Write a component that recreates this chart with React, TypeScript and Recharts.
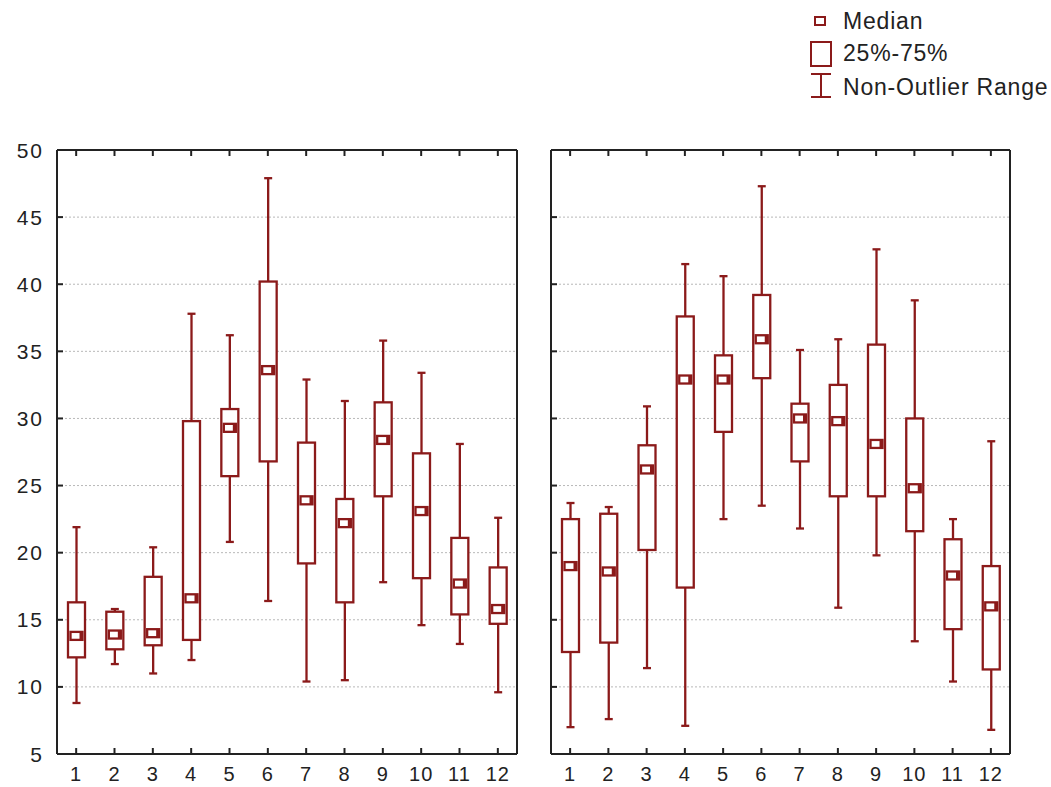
import { ComposedChart, Bar, XAxis, YAxis, CartesianGrid } from 'recharts';

const months = ['1', '2', '3', '4', '5', '6', '7', '8', '9', '10', '11', '12'];
const yTicks = [5, 10, 15, 20, 25, 30, 35, 40, 45, 50];

// left panel
const leftMin = [8.8, 11.7, 11.0, 12.0, 20.8, 16.4, 10.4, 10.5, 17.8, 14.6, 13.2, 9.6];
const leftQ1 = [12.2, 12.8, 13.1, 13.5, 25.7, 26.8, 19.2, 16.3, 24.2, 18.1, 15.4, 14.7];
const leftMedian = [13.8, 13.9, 14.0, 16.6, 29.3, 33.6, 23.9, 22.2, 28.4, 23.1, 17.7, 15.8];
const leftQ3 = [16.3, 15.6, 18.2, 29.8, 30.7, 40.2, 28.2, 24.0, 31.2, 27.4, 21.1, 18.9];
const leftMax = [21.9, 15.8, 20.4, 37.8, 36.2, 47.9, 32.9, 31.3, 35.8, 33.4, 28.1, 22.6];

// right panel
const rightMin = [7.0, 7.6, 11.4, 7.1, 22.5, 23.5, 21.8, 15.9, 19.8, 13.4, 10.4, 6.8];
const rightQ1 = [12.6, 13.3, 20.2, 17.4, 29.0, 33.0, 26.8, 24.2, 24.2, 21.6, 14.3, 11.3];
const rightMedian = [19.0, 18.6, 26.2, 32.9, 32.9, 35.9, 30.0, 29.8, 28.1, 24.8, 18.3, 16.0];
const rightQ3 = [22.5, 22.9, 28.0, 37.6, 34.7, 39.2, 31.1, 32.5, 35.5, 30.0, 21.0, 19.0];
const rightMax = [23.7, 23.4, 30.9, 41.5, 40.6, 47.3, 35.1, 35.9, 42.6, 38.8, 22.5, 28.3];

const RED = '#8b1a1a';
const AXIS = '#222';
const FONT = '"Liberation Sans", Arial, sans-serif';

const buildRows = (mins: number[], q1s: number[], meds: number[], q3s: number[], maxs: number[]) =>
  months.map((m, i) => ({
    month: m,
    min: mins[i],
    q1: q1s[i],
    median: meds[i],
    q3: q3s[i],
    max: maxs[i],
  }));

const leftRows = buildRows(leftMin, leftQ1, leftMedian, leftQ3, leftMax);
const rightRows = buildRows(rightMin, rightQ1, rightMedian, rightQ3, rightMax);

// bar spans min..max; the inner parts are placed on the same pixel scale
const BoxShape = (props: any) => {
  const { x, y, width, height, payload } = props;
  const { min, q1, median, q3, max } = payload;
  const px = (v: number) => y + ((max - v) / (max - min)) * height;
  const cx = x + width / 2;
  const cap = 4;
  const mw = 12;
  const mh = 8;
  const my = px(median);
  return (
    <g stroke={RED} strokeWidth={2.3} fill="none">
      <line x1={cx} x2={cx} y1={px(max)} y2={px(q3)} />
      <line x1={cx} x2={cx} y1={px(q1)} y2={px(min)} />
      <line x1={cx - cap} x2={cx + cap} y1={px(max)} y2={px(max)} />
      <line x1={cx - cap} x2={cx + cap} y1={px(min)} y2={px(min)} />
      <rect x={x} y={px(q3)} width={width} height={px(q1) - px(q3)} fill="#fff" />
      <rect x={cx - mw / 2} y={my - mh / 2} width={mw} height={mh} fill="#fff" />
      <rect x={cx + mw / 2 - 3} y={my - mh / 2} width={3} height={mh} fill={RED} stroke="none" />
    </g>
  );
};

// ticks all point into the plot frame
const LeftTick = (withLabel: boolean) => (props: any) => {
  const { x, y, payload } = props;
  return (
    <g>
      <line x1={x} x2={x + 6} y1={y} y2={y} stroke={AXIS} strokeWidth={2} />
      {withLabel && (
        <text x={x - 13} y={y} dy="0.36em" textAnchor="end" fontSize={21} letterSpacing={2} fill="#222" fontFamily={FONT}>
          {payload.value}
        </text>
      )}
    </g>
  );
};

const RightTick = (props: any) => {
  const { x, y } = props;
  return <line x1={x - 6} x2={x} y1={y} y2={y} stroke={AXIS} strokeWidth={2} />;
};

const BottomTick = (props: any) => {
  const { x, y, payload } = props;
  return (
    <g>
      <line x1={x} x2={x} y1={y} y2={y - 6} stroke={AXIS} strokeWidth={2} />
      <text x={x} y={y + 20} dy="0.36em" textAnchor="middle" fontSize={20} letterSpacing={1} fill="#222" fontFamily={FONT}>
        {payload.value}
      </text>
    </g>
  );
};

const TopTick = (props: any) => {
  const { x, y } = props;
  return <line x1={x} x2={x} y1={y} y2={y + 6} stroke={AXIS} strokeWidth={2} />;
};

const Panel = ({ rows, leftWidth, rightWidth, width, withLabels }: any) => (
  <ComposedChart width={width} height={657} data={rows} margin={{ top: 0, right: 0, bottom: 0, left: 0 }}>
    <CartesianGrid vertical={false} stroke="#b8b8b8" strokeDasharray="2 2" />
    <XAxis
      dataKey="month"
      height={33}
      tickSize={0}
      tickMargin={0}
      tickLine={false}
      interval={0}
      axisLine={{ stroke: AXIS, strokeWidth: 2 }}
      tick={BottomTick}
    />
    <XAxis
      dataKey="month"
      xAxisId="top"
      orientation="top"
      height={20}
      tickSize={0}
      tickMargin={0}
      tickLine={false}
      interval={0}
      axisLine={{ stroke: AXIS, strokeWidth: 2 }}
      tick={TopTick}
    />
    <YAxis
      domain={[5, 50]}
      ticks={yTicks}
      width={leftWidth}
      tickSize={0}
      tickMargin={0}
      tickLine={false}
      interval={0}
      axisLine={{ stroke: AXIS, strokeWidth: 2 }}
      tick={LeftTick(withLabels)}
    />
    <YAxis
      yAxisId="r"
      orientation="right"
      domain={[5, 50]}
      ticks={yTicks}
      width={rightWidth}
      tickSize={0}
      tickMargin={0}
      tickLine={false}
      interval={0}
      axisLine={{ stroke: AXIS, strokeWidth: 2 }}
      tick={RightTick}
    />
    <Bar dataKey={(d: any) => [d.min, d.max]} barSize={17} shape={<BoxShape />} isAnimationActive={false} />
  </ComposedChart>
);

const Legend = () => (
  <svg width={251} height={110} style={{ position: 'absolute', left: 800, top: 0 }}>
    <g stroke={RED} strokeWidth={2} fill="none">
      <rect x={15} y={17} width={10} height={8} />
      <rect x={11} y={42} width={20} height={24} />
      <line x1={21} x2={21} y1={74} y2={97} />
      <line x1={11} x2={31} y1={74} y2={74} />
      <line x1={11} x2={31} y1={97} y2={97} />
    </g>
    <g fontFamily={FONT} fontSize={23} letterSpacing={0.8} fill="#222">
      <text x={43} y={21} dy="0.36em">Median</text>
      <text x={43} y={53} dy="0.36em">25%-75%</text>
      <text x={43} y={87} dy="0.36em">Non-Outlier Range</text>
    </g>
  </svg>
);

export default function App() {
  return (
    <div style={{ position: 'absolute', left: 0, top: 0, width: 1051, height: 787, background: '#fff' }}>
      <Legend />
      <div style={{ position: 'absolute', left: 0, top: 130 }}>
        <Panel rows={leftRows} width={530} leftWidth={57} rightWidth={13} withLabels />
      </div>
      <div style={{ position: 'absolute', left: 530, top: 130 }}>
        <Panel rows={rightRows} width={521} leftWidth={21} rightWidth={41} withLabels={false} />
      </div>
    </div>
  );
}
